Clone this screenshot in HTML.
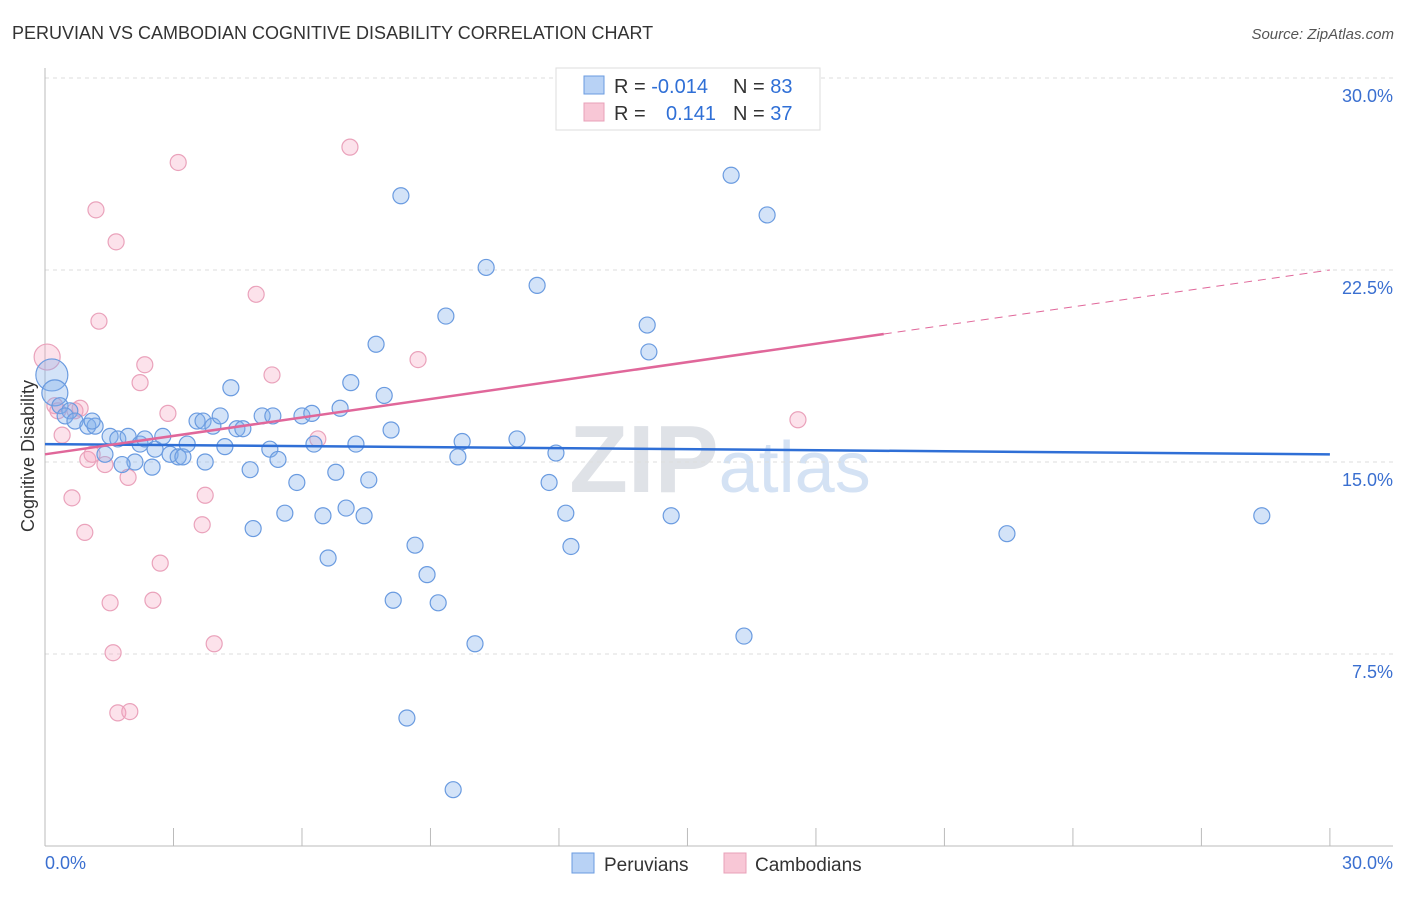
<!DOCTYPE html>
<html><head><meta charset="utf-8"><style>
body{margin:0;background:#fff;font-family:"Liberation Sans",sans-serif}
svg text{font-family:"Liberation Sans",sans-serif}
</style></head><body>
<svg width="1406" height="892" viewBox="0 0 1406 892" id="c">
<text x="12" y="39" font-size="18" fill="#333">PERUVIAN VS CAMBODIAN COGNITIVE DISABILITY CORRELATION CHART</text>
<text x="1394" y="39" font-size="15" fill="#555" font-style="italic" text-anchor="end">Source: ZipAtlas.com</text>
<text x="720" y="492" font-size="96" fill="#e6e9ee" text-anchor="middle" font-family="Liberation Serif"><tspan font-weight="bold" fill="#dfe2e7">ZIP</tspan><tspan fill="#d4e2f4" font-family="Liberation Sans" font-size="72">atlas</tspan></text>
<g id="grid"></g>
<g id="axes"></g>
<g id="pts"></g>
<g id="lines"></g>
<text transform="translate(34,456) rotate(-90)" font-size="18" fill="#333" text-anchor="middle">Cognitive Disability</text>
<g>
<rect x="556" y="68" width="264" height="62" fill="#fff" stroke="#ddd"/>
<rect x="584" y="76" width="20" height="18" fill="#b8d2f5" stroke="#6a9be0"/>
<rect x="584" y="103" width="20" height="18" fill="#f8c7d6" stroke="#e8a0b8"/>
<text x="614" y="93" font-size="20" fill="#333">R = <tspan fill="#2f6fd6">-0.014</tspan><tspan x="733">N = </tspan><tspan fill="#2f6fd6">83</tspan></text>
<text x="614" y="120" font-size="20" fill="#333">R = <tspan x="666" fill="#2f6fd6">0.141</tspan><tspan x="733">N = </tspan><tspan fill="#2f6fd6">37</tspan></text>
</g>
<g>
<rect x="572" y="853" width="22" height="20" fill="#b8d2f5" stroke="#6a9be0"/>
<text x="604" y="871" font-size="19" fill="#333">Peruvians</text>
<rect x="724" y="853" width="22" height="20" fill="#f8c7d6" stroke="#e8a0b8"/>
<text x="755" y="871" font-size="19" fill="#333">Cambodians</text>
</g>
</svg>
<script>
const yTicks=[7.5,15,22.5,30];
const yTickLabels=["7.5%","15.0%","22.5%","30.0%"];
const xTickVals=[0,3,6,9,12,15,18,21,24,27,30];
const blueX=[0.16,0.23,0.35,0.58,0.47,0.70,1.0,1.17,1.10,1.52,1.70,1.94,2.22,2.33,2.57,2.75,2.92,3.11,3.22,3.32,2.10,1.80,2.50,1.40,3.55,3.69,3.92,4.09,3.74,4.20,4.34,4.48,4.62,4.79,4.86,5.07,5.25,5.32,5.44,5.60,5.88,6.0,6.23,6.28,6.49,6.61,6.79,6.89,7.03,7.26,7.45,7.56,7.14,7.73,7.92,8.08,8.13,8.31,8.45,8.64,8.92,9.18,9.36,9.53,9.64,9.74,10.04,10.30,11.02,11.49,11.77,11.93,12.16,12.28,14.06,14.10,14.62,16.02,16.32,16.86,22.46,28.41];
const blueY=[18.4,17.7,17.2,17.0,16.8,16.6,16.4,16.4,16.6,16.0,15.9,16.0,15.7,15.9,15.5,16.0,15.3,15.2,15.2,15.7,15.0,14.9,14.8,15.3,16.6,16.6,16.4,16.8,15.0,15.6,17.9,16.3,16.3,14.7,12.4,16.8,15.5,16.8,15.1,13.0,14.2,16.8,16.9,15.7,12.9,11.25,14.6,17.1,13.2,15.7,12.9,14.3,18.1,19.6,17.6,16.25,9.6,25.4,5.0,11.75,10.6,9.5,20.7,2.2,15.2,15.8,7.9,22.6,15.9,21.9,14.2,15.35,13.0,11.7,20.35,19.3,12.9,26.2,8.2,24.65,12.2,12.9];
const pinkX=[0.05,0.23,0.30,0.40,0.70,0.82,0.63,0.93,1.0,1.10,1.19,1.26,1.40,1.52,1.59,1.66,1.70,1.98,1.94,2.22,2.33,2.52,2.69,2.87,3.11,3.67,3.74,3.95,4.93,5.30,6.37,7.12,8.71,13.26,17.58];
const pinkY=[19.1,17.2,17.0,16.05,17.0,17.1,13.6,12.25,15.1,15.3,24.85,20.5,14.9,9.5,7.55,23.6,5.2,5.25,14.4,18.1,18.8,9.6,11.05,16.9,26.7,12.55,13.7,7.9,21.55,18.4,15.9,27.3,19.0,28.8,16.65];
const blueTrend=[15.7,15.3];
const pinkTrend=[15.3,22.5];
const pinkSolidEnd=20.0;
const NS="http://www.w3.org/2000/svg";
const X=v=>45+v*42.83, Y=v=>846-v*25.6;
function mk(t,a,p){const e=document.createElementNS(NS,t);for(const k in a)e.setAttribute(k,a[k]);p.appendChild(e);return e;}
const grid=document.getElementById('grid'),axes=document.getElementById('axes'),pts=document.getElementById('pts'),lines=document.getElementById('lines');
yTicks.forEach((v,i)=>{const l=mk('line',{x1:45,x2:1393,y1:Y(v),y2:Y(v),stroke:'#ddd','stroke-dasharray':'4,4'},grid);


const t=mk('text',{x:1393,y:Y(v)+24,'font-size':18,fill:'#3a6fd0','text-anchor':'end'},axes);t.textContent=yTickLabels[i];

});
mk('line',{x1:45,x2:45,y1:68,y2:846,stroke:'#bbb'},axes);
mk('line',{x1:45,x2:1393,y1:846,y2:846,stroke:'#bbb'},axes);
xTickVals.forEach(v=>{const l=mk('line',{x1:X(v),x2:X(v),y1:828,y2:846,stroke:'#bbb'},axes);

});
let t1=mk('text',{x:45,y:869,'font-size':18,fill:'#3a6fd0'},axes);t1.textContent="0.0%";


let t2=mk('text',{x:1393,y:869,'font-size':18,fill:'#3a6fd0','text-anchor':'end'},axes);t2.textContent="30.0%";


pinkX.forEach((v,i)=>{const c=mk('circle',{cx:X(v),cy:Y(pinkY[i]),r:i==0?13:8,fill:'rgba(244,160,190,0.3)',stroke:'#eaa2bb','stroke-width':1.2},pts);

});
blueX.forEach((v,i)=>{const c=mk('circle',{cx:X(v),cy:Y(blueY[i]),r:i==0?16:(i==1?13:8),fill:'rgba(130,175,235,0.35)',stroke:'#6a9be0','stroke-width':1.2},pts);

});
const slope=(pinkTrend[1]-pinkTrend[0])/30, xe=(pinkSolidEnd-pinkTrend[0])/slope;
let l1=mk('line',{x1:X(0),y1:Y(blueTrend[0]),x2:X(30),y2:Y(blueTrend[1]),stroke:'#2f6fd6','stroke-width':2.5},lines);


let l2=mk('line',{x1:X(0),y1:Y(pinkTrend[0]),x2:X(xe),y2:Y(pinkSolidEnd),stroke:'#e0679a','stroke-width':2.5},lines);


let l3=mk('line',{x1:X(xe),y1:Y(pinkSolidEnd),x2:X(30),y2:Y(pinkTrend[1]),stroke:'#e0679a','stroke-width':1,'stroke-dasharray':'8,6'},lines);


</script>
</body></html>
